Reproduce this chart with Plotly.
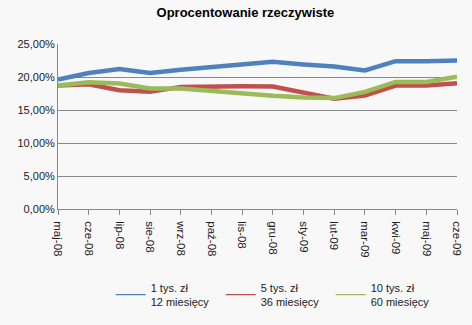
import plotly.graph_objects as go

months = ["maj-08", "cze-08", "lip-08", "sie-08", "wrz-08", "paź-08", "lis-08",
          "gru-08", "sty-09", "lut-09", "mar-09", "kwi-09", "maj-09", "cze-09"]
s1_name = "1 tys. zł<br>12 miesięcy"
s2_name = "5 tys. zł<br>36 miesięcy"
s3_name = "10 tys. zł<br>60 miesięcy"
s1 = [19.6, 20.6, 21.2, 20.6, 21.1, 21.5, 21.9, 22.3, 21.9, 21.6, 21.0, 22.4, 22.4, 22.5]
s2 = [18.7, 18.9, 18.0, 17.75, 18.5, 18.6, 18.6, 18.55, 17.6, 16.7, 17.2, 18.7, 18.7, 19.05]
s3 = [18.7, 19.2, 19.0, 18.25, 18.25, 17.85, 17.45, 17.15, 16.9, 16.8, 17.75, 19.25, 19.25, 20.05]

colors = ["#4F81BD", "#C0504D", "#9BBB59"]
names = [s1_name, s2_name, s3_name]
series = [s1, s2, s3]

fig = go.Figure()
for vals, c in zip(series, colors):
    fig.add_trace(go.Scatter(x=months, y=[v / 100 for v in vals], mode="lines",
                             line=dict(color=c, width=4.5), showlegend=False))
for nm, c in zip(names, colors):
    fig.add_trace(go.Scatter(x=[None], y=[None], mode="lines", name=nm,
                             line=dict(color=c, width=1.2)))

font_fam = "Liberation Sans, Arial, sans-serif"
fig.update_layout(
    width=472, height=325,
    margin=dict(l=58, r=9, t=44, b=108),
    paper_bgcolor="#F8F8F8", plot_bgcolor="#F8F8F8",
    separators=", ",
    font=dict(family=font_fam, size=11, color="#222"),
    title=dict(text="<b>Oprocentowanie rzeczywiste</b>", x=0.52, xanchor="center",
               y=0.962, yanchor="middle", font=dict(size=13, color="#000")),
    xaxis=dict(type="category", range=[0, 13], tickangle=90, showgrid=False,
               showline=True, linecolor="#888", linewidth=1,
               ticks="outside", ticklen=5, tickcolor="#888", ticklabelstandoff=4,
               tickfont=dict(size=11.5, color="#222")),
    yaxis=dict(range=[0, 0.25], dtick=0.05, tickformat=".2%",
               showgrid=True, gridcolor="#888", gridwidth=1,
               showline=True, linecolor="#888", linewidth=1,
               zeroline=False, ticks="", tickfont=dict(size=11, color="#222")),
    legend=dict(orientation="h", x=0.132, xanchor="left", y=-0.393, yanchor="top",
                bgcolor="rgba(0,0,0,0)", font=dict(size=11, color="#222"),
                itemwidth=30, tracegroupgap=0, entrywidth=65, entrywidthmode="pixels"),
)
fig.write_html("out.html")
